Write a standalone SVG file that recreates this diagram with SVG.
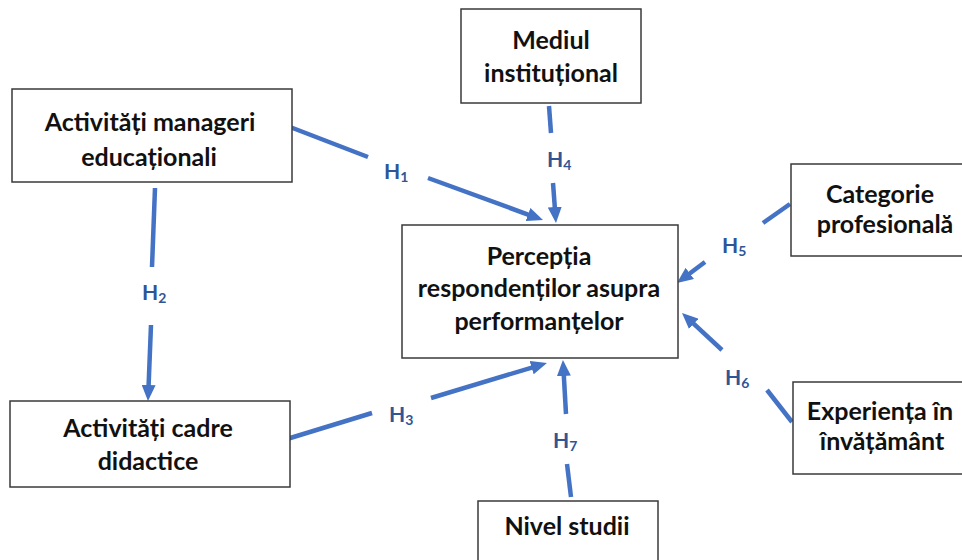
<svg xmlns="http://www.w3.org/2000/svg" width="962" height="560" viewBox="0 0 962 560">
<defs>
<style>
.box{fill:#fff;stroke:#3a3a3a;stroke-width:1.5}
.t{font-family:Lato,"Open Sans","Liberation Sans",sans-serif;font-weight:bold;font-size:25px;fill:#111;text-anchor:middle}
.c{stroke:#4472C4;stroke-width:4.5;fill:none}
.a{marker-end:url(#ah)}
.h{font-family:Lato,"Open Sans","Liberation Sans",sans-serif;font-weight:bold;font-size:21px;fill:#2F5597}
.s{font-size:14px}
</style>
<marker id="ah" markerUnits="userSpaceOnUse" markerWidth="16" markerHeight="14" viewBox="0 0 16 14" refX="8" refY="7" orient="auto">
<path d="M0,0 L16,7 L0,14 z" fill="#4472C4"/>
</marker>
</defs>
<rect width="962" height="560" fill="#fff"/>
<g id="connectors">
<line class="c" x1="290" y1="127" x2="368" y2="157"/>
<line class="c a" x1="428" y1="178" x2="535.5" y2="217.3"/>
<line class="c" x1="549" y1="106" x2="551" y2="133"/>
<line class="c a" x1="553" y1="183" x2="555.4" y2="215"/>
<line class="c" x1="155" y1="188" x2="152" y2="267"/>
<line class="c a" x1="151" y1="325" x2="148.3" y2="393"/>
<line class="c" x1="287" y1="439" x2="372" y2="413"/>
<line class="c a" x1="431" y1="398" x2="539.3" y2="365.3"/>
<line class="c" x1="571" y1="497" x2="567" y2="464"/>
<line class="c a" x1="566" y1="414" x2="563.4" y2="368"/>
<line class="c" x1="790" y1="204" x2="763" y2="223"/>
<line class="c a" x1="705" y1="262" x2="683.4" y2="278.2"/>
<line class="c" x1="792" y1="422" x2="767" y2="390"/>
<line class="c a" x1="722" y1="350" x2="687.9" y2="318.4"/>
<text class="h" x="384" y="179">H<tspan class="s" dy="3">1</tspan></text>
<text class="h" x="142" y="300">H<tspan class="s" dy="3">2</tspan></text>
<text class="h" x="389" y="422">H<tspan class="s" dy="3">3</tspan></text>
<text class="h" x="547" y="167">H<tspan class="s" dy="3">4</tspan></text>
<text class="h" x="722" y="253">H<tspan class="s" dy="3">5</tspan></text>
<text class="h" x="725" y="385">H<tspan class="s" dy="3">6</tspan></text>
<text class="h" x="553" y="448">H<tspan class="s" dy="3">7</tspan></text>
</g>
<g id="n-manageri">
<rect class="box" x="12" y="89" width="280" height="93"/>
<text class="t" x="150" y="131">Activități manageri</text>
<text class="t" x="149" y="166">educaționali</text>
</g>
<g id="n-mediul">
<rect class="box" x="461" y="9" width="180" height="94"/>
<text class="t" x="551" y="49">Mediul</text>
<text class="t" x="551" y="82">instituțional</text>
</g>
<g id="n-perceptia">
<rect class="box" x="402" y="225" width="276" height="133"/>
<text class="t" x="539" y="265">Percepția</text>
<text class="t" x="539" y="297">respondenților asupra</text>
<text class="t" x="539" y="330">performanțelor</text>
</g>
<g id="n-categorie">
<rect class="box" x="791" y="164" width="200" height="92"/>
<text class="t" x="880" y="203">Categorie</text>
<text class="t" x="885" y="233">profesională</text>
</g>
<g id="n-experienta">
<rect class="box" x="793" y="382" width="200" height="92"/>
<text class="t" x="880" y="420">Experiența în</text>
<text class="t" x="882" y="450">învățământ</text>
</g>
<g id="n-cadre">
<rect class="box" x="10" y="401" width="280" height="86"/>
<text class="t" x="148" y="437">Activități cadre</text>
<text class="t" x="148" y="470">didactice</text>
</g>
<g id="n-nivel">
<rect class="box" x="478" y="501" width="180" height="80"/>
<text class="t" x="567" y="535">Nivel studii</text>
</g>
</svg>
